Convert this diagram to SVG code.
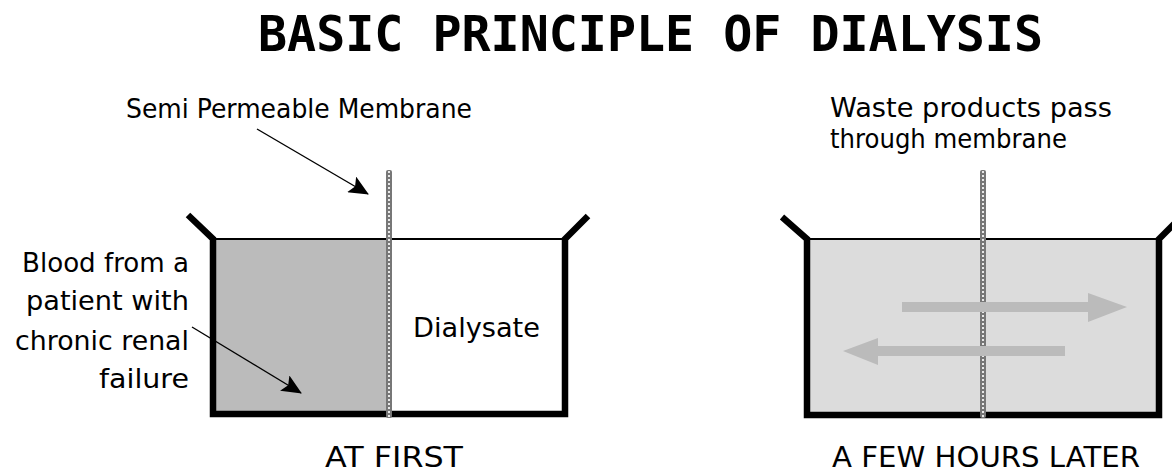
<svg xmlns="http://www.w3.org/2000/svg" width="1172" height="474" viewBox="0 0 1172 474">
<style>
.lbl{font-family:"DejaVu Sans","Liberation Sans",sans-serif;font-size:27px;fill:#000}
.cap{font-family:"DejaVu Sans","Liberation Sans",sans-serif;font-size:28px;fill:#000}
.title{font-family:"DejaVu Sans Mono","Liberation Mono",monospace;font-size:49px;font-weight:bold;fill:#000}
.wall{fill:none;stroke:#000;stroke-width:6.5;stroke-linejoin:miter;stroke-linecap:butt}
.rim{stroke:#000;stroke-width:2}
.ptr{fill:none;stroke:#000;stroke-width:1.4}
.flow{fill:#bbbbbb}
.memb{fill:#777}
.memd{stroke:#e8e8e8;stroke-width:2;stroke-dasharray:2 2}
</style>
<defs>
<marker id="head" markerUnits="userSpaceOnUse" markerWidth="20" markerHeight="18" viewBox="0 0 20 18" refX="19" refY="9" orient="auto">
<path d="M0,0 L20,9 L0,18 L4,9 z" fill="#000"/>
</marker>
</defs>
<rect width="1172" height="474" fill="#fff"/>
<text class="title" x="258" y="51" textLength="785" lengthAdjust="spacingAndGlyphs">BASIC PRINCIPLE OF DIALYSIS</text>
<g id="tank-first">
<rect x="213" y="239" width="176" height="175" fill="#bbbbbb"/>
<rect x="389" y="239" width="176" height="175" fill="#fff"/>
<line class="rim" x1="213" y1="239" x2="565" y2="239"/>
<path class="wall" d="M188,215 L213,239 L213,414 L565,414 L565,239 L588,216"/>
<rect class="memb" x="386" y="170" width="6" height="248" rx="2"/>
<line class="memd" x1="389" y1="171" x2="389" y2="417"/>
</g>
<g id="label-dialysate"><text class="lbl" x="413" y="337" textLength="127" lengthAdjust="spacingAndGlyphs">Dialysate</text></g>
<g id="label-membrane"><text class="lbl" x="126" y="118" textLength="346" lengthAdjust="spacingAndGlyphs">Semi Permeable Membrane</text></g>
<g id="label-blood">
<text class="lbl" x="189" y="272" text-anchor="end" textLength="167" lengthAdjust="spacingAndGlyphs">Blood from a</text>
<text class="lbl" x="189" y="310" text-anchor="end" textLength="163" lengthAdjust="spacingAndGlyphs">patient with</text>
<text class="lbl" x="189" y="350" text-anchor="end" textLength="174" lengthAdjust="spacingAndGlyphs">chronic renal</text>
<text class="lbl" x="189" y="388" text-anchor="end" textLength="90" lengthAdjust="spacingAndGlyphs">failure</text>
</g>
<g id="caption-first"><text class="cap" x="325" y="467" textLength="138" lengthAdjust="spacingAndGlyphs">AT FIRST</text></g>
<g id="tank-later">
<rect x="807" y="239" width="352" height="176" fill="#dcdcdc"/>
<line class="rim" x1="807" y1="239" x2="1159" y2="239"/>
<path class="wall" d="M782,217 L807,239 L807,415 L1159,415 L1159,239 L1182,216"/>
<rect class="memb" x="980" y="170" width="6" height="248" rx="2"/>
<line class="memd" x1="983" y1="171" x2="983" y2="417"/>
</g>
<g id="label-waste">
<text class="lbl" x="830" y="117" textLength="282" lengthAdjust="spacingAndGlyphs">Waste products pass</text>
<text class="lbl" x="830" y="148" textLength="237" lengthAdjust="spacingAndGlyphs">through membrane</text>
</g>
<g id="caption-later"><text class="cap" x="832" y="467" textLength="308" lengthAdjust="spacingAndGlyphs">A FEW HOURS LATER</text></g>
<g id="connectors">
<path class="ptr" d="M257,129 L368,194" marker-end="url(#head)"/>
<path class="ptr" d="M192,327 L301,393" marker-end="url(#head)"/>
<polygon class="flow" points="902,302 1088,302 1088,293 1127,307 1088,322 1088,312 902,312"/>
<polygon class="flow" points="1065,346 878,346 878,338 843,351 878,365 878,356 1065,356"/>
</g>
</svg>
